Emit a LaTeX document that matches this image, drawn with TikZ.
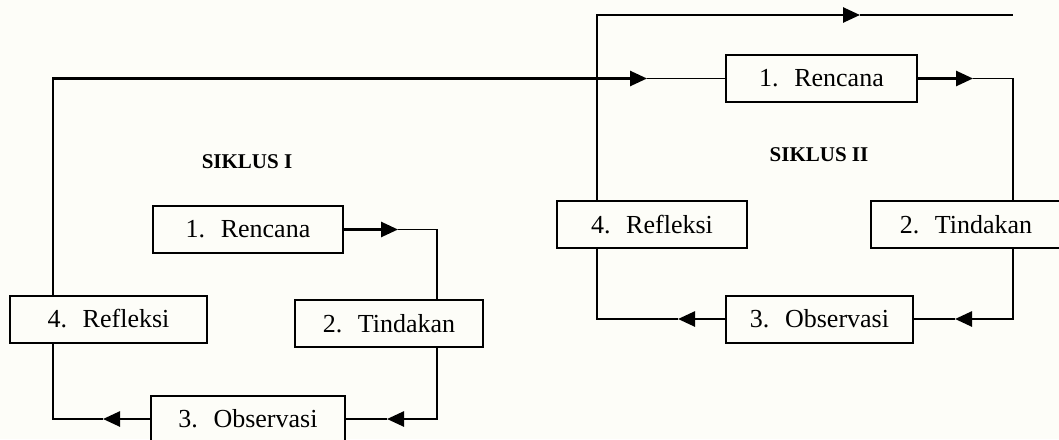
\documentclass[tikz,border=0pt]{standalone}
\usepackage{fontspec}
\setmainfont{Liberation Serif}
\usetikzlibrary{arrows.meta, positioning}

\definecolor{paper}{RGB}{253,253,248}

\tikzset{
  stage box/.style={draw, fill=paper, line width=1pt, inner sep=0pt,
    minimum height=23.5pt, font=\fontsize{13}{15}\selectfont},
  cycle label/.style={font=\bfseries\fontsize{10.5}{12}\selectfont},
  flow/.style={line width=1.3pt, -{Triangle[length=8.5pt,width=7.5pt]}},
  flow end/.style={line width=0.8pt},
}
\newcommand{\stagetext}[2]{#1.\hspace{0.6em}#2}

\begin{document}
\begin{tikzpicture}[x=0.5pt, y=-0.5pt]
        \fill [paper] (0,0) rectangle (1059,439);
        \useasboundingbox (0,0) rectangle (1059,439);

        % siklus I
        \foreach \n/\k/\t/\x/\y/\w in {R1/1/Rencana/248/229.5/95, T1/2/Tindakan/389/323.5/94, O1/3/Observasi/248/419/97, F1/4/Refleksi/108.5/319/98.5}
        \node [stage box, minimum width=\w pt] (\n) at (\x,\y) {\stagetext{\k}{\t}};

        % siklus II
        \foreach \n/\k/\t/\x/\y/\w in {R2/1/Rencana/821.5/78.5/95.5, T2/2/Tindakan/966/224.5/95, O2/3/Observasi/819.5/319/93.5, F2/4/Refleksi/652/224.5/95}
        \node [stage box, minimum width=\w pt] (\n) at (\x,\y) {\stagetext{\k}{\t}};

        \node [cycle label] (siklus-1) at (247,162) {SIKLUS I};
        \node [cycle label] (siklus-2) at (819,155) {SIKLUS II};

        % tips and corners
        \coordinate (a1) at (398,229.5);
        \coordinate (c1) at (437,229.5);
        \coordinate (c2) at (437,419);
        \coordinate (a2) at (387,419);
        \coordinate (a3) at (103,419);
        \coordinate (c3) at (53,419);
        \coordinate (c4) at (53,78.5);
        \coordinate (a4) at (647,78.5);
        \coordinate (a5) at (973,78.5);
        \coordinate (c5) at (1013,78.5);
        \coordinate (c6) at (1013,319);
        \coordinate (a6) at (955,319);
        \coordinate (a7) at (678,319);
        \coordinate (c7) at (597,319);
        \coordinate (c8) at (597,15);
        \coordinate (a8) at (860,15);
        \coordinate (out) at (1013,15);

        \draw [flow] (R1.east) -- (a1);
        \draw [flow end] (a1) -- (c1) -- (c1 |- T1.north);
        \draw [flow] (c2 |- T1.south) -- (c2) -- (a2);
        \draw [line width=1.3pt] (a2) -- (O1.east);
        \draw [flow] (O1.west) -- (a3);
        \draw [flow end] (a3) -- (c3) -- (c3 |- F1.south);
        \draw [flow] (c4 |- F1.north) -- (c4) -- (a4);
        \draw [flow end] (a4) -- (R2.west);

        \draw [flow] (R2.east) -- (a5);
        \draw [flow end] (a5) -- (c5) -- (c5 |- T2.north);
        \draw [flow] (c6 |- T2.south) -- (c6) -- (a6);
        \draw [line width=1.3pt] (a6) -- (O2.east);
        \draw [flow] (O2.west) -- (a7);
        \draw [flow end] (a7) -- (c7) -- (c7 |- F2.south);
        \draw [flow] (c8 |- F2.north) -- (c8) -- (a8);
        \draw [flow end] (a8) -- (out);

      \end{tikzpicture}
\end{document}
